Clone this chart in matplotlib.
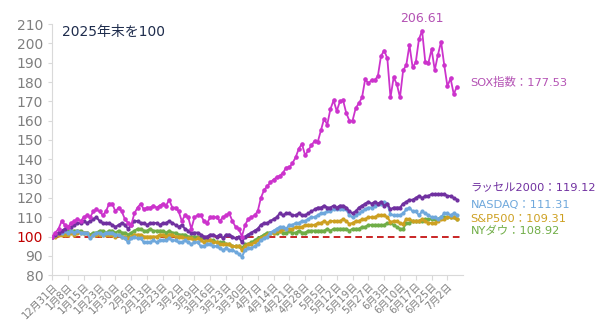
import matplotlib
matplotlib.use("Agg")
import matplotlib.pyplot as plt

plt.rcParams['font.family'] = ['DejaVu Sans', 'Noto Sans CJK JP']

# x tick labels, one every 5 trading days
tick_labels = ["12月31日", "1月8日", "1月15日", "1月23日", "1月30日", "2月6日", "2月13日",
               "2月23日", "3月2日", "3月9日", "3月16日", "3月23日", "3月30日", "4月7日",
               "4月14日", "4月21日", "4月28日", "5月5日", "5月12日", "5月19日", "5月27日",
               "6月3日", "6月10日", "6月17日", "6月25日", "7月2日"]

sox = [100, 102, 104, 108, 106, 105, 107, 108, 109, 108,
       110, 111, 110, 113, 114, 113, 111, 113, 117, 117,
       113, 115, 113, 109, 107, 106, 112, 115, 117, 114,
       115, 115, 116, 115, 116, 117, 116, 119, 115, 115,
       113, 108, 111, 110, 104, 110, 111, 111, 108, 107,
       110, 110, 110, 108, 110, 111, 112, 108, 105, 104,
       100, 106, 109, 110, 111, 113, 120, 124, 126, 128,
       129.5, 130.7, 131.5, 133, 135.7, 135.8, 138, 141, 145.5, 148,
       142, 144.7, 147.3, 149.5, 149, 155, 161, 158, 166, 170.5,
       165, 170, 170.6, 164, 160, 160, 166.5, 169, 172, 181.5,
       179.3, 181, 181, 183, 193.5, 196.3, 192.3, 172, 182.4, 179,
       172, 186, 188.8, 199.2, 187.6, 190.2, 202.2, 206.61, 190.5, 190,
       197, 186.2, 194, 200.9, 188.8, 177.9, 181.9, 173.8, 177.53]

russell = [100, 101, 102, 103, 104, 105, 105, 106, 107, 107,
           108, 107, 108, 109, 110, 108, 107, 107, 107, 106,
           105, 106, 107, 106, 104, 106, 108, 108, 107, 107,
           106, 107, 107, 107, 106, 107, 107, 108, 107, 106,
           105, 106, 104, 103, 102, 102, 102, 101, 100, 100,
           101, 101, 100, 101, 99, 101, 101, 100, 99, 100,
           97, 100, 101, 102, 103, 104, 106, 107, 107, 108,
           109, 110, 112, 111, 112, 112, 111, 111, 112, 111,
           111, 112, 113, 114, 115, 115, 116, 115, 115, 116,
           115, 116, 116, 115, 113, 112, 113, 115, 116, 117,
           118, 117, 118, 117, 118, 116, 117, 114, 115, 115,
           115, 117, 118, 119, 119, 120, 121, 120, 121, 121,
           122, 122, 122, 122, 122, 121, 121, 120, 119.12]

nasdaq = [100, 101, 102, 102, 103, 102, 103, 102, 103, 102,
          102, 102, 99, 101, 102, 102, 101, 102, 102, 102,
          101, 101, 100, 99, 97, 99, 100, 99, 99, 97,
          97, 97, 98, 97, 98, 98, 98, 99, 98, 98,
          97, 97, 98, 97, 96, 97, 97, 95, 95, 96,
          96, 95, 95, 94, 93, 94, 93, 93, 92, 91,
          89.5, 93, 94, 94, 95, 96, 98, 99, 100, 102,
          103, 104, 105, 105, 104, 106, 106, 107, 107, 108,
          108, 109, 110, 110, 111, 112, 112, 113, 113, 114,
          114, 114, 114, 114, 111, 110, 111, 112, 113, 114,
          115, 115, 116, 117, 117, 118, 117, 111.5, 111, 111,
          111, 112, 114, 115, 113, 113, 111, 113, 112, 111,
          110, 110, 109, 110, 112, 112, 111, 112, 111.31]

sp500 = [100, 100, 101, 101, 101, 101, 102, 101, 102, 102,
         102, 102, 100, 101, 101, 101, 101, 101, 101, 101,
         100, 101, 100, 100, 99, 100, 101, 101, 101, 100,
         100, 100, 100, 100, 101, 101, 100, 101, 101, 100,
         100, 100, 99, 99, 99, 98, 99, 98, 97, 98,
         98, 97, 97, 96, 96, 96, 96, 95, 95, 95,
         93, 95, 96, 96, 97, 98, 99, 100, 101, 102,
         102, 103, 103, 104, 104, 104, 104, 105, 105, 105,
         106, 106, 106, 106, 107, 107, 108, 107, 108, 108,
         108, 108, 109, 108, 106.5, 107, 108, 108, 109, 109,
         110, 110, 110, 111, 111, 111, 110, 107.5, 108, 108,
         107, 106.5, 109, 109, 108, 108, 108, 109, 108, 107,
         107, 107, 108, 109, 109, 110, 110, 110, 109.31]

dow = [100, 101, 102, 102, 102, 103, 103, 103, 103, 103,
       102, 102, 101, 102, 102, 103, 103, 102, 103, 103,
       102, 103, 102, 102, 101, 102, 103, 104, 104, 103,
       103, 104, 103, 103, 103, 103, 102, 103, 102, 102,
       101, 101, 101, 100, 100, 100, 100, 99, 99, 98,
       98, 98, 97, 97, 97, 96, 96, 95, 95, 95,
       94, 96, 96, 97, 98, 99, 100, 101, 102, 102,
       102, 102, 103, 102, 102, 103, 102, 102, 103, 102,
       102, 103, 103, 103, 103, 103, 103, 104, 103, 104,
       104, 104, 104, 104, 103, 104, 104, 104, 105, 105,
       106, 106, 106, 106, 106, 106, 107, 107, 106, 105,
       104, 104, 107, 107, 108, 108, 108, 108, 109, 109,
       109, 109, 109, 110, 110, 110, 110, 110, 108.92]

x = list(range(len(sox)))

fig = plt.figure(figsize=(6, 3.26), dpi=100)
ax = fig.add_axes([0.087, 0.156, 0.685, 0.77])

ax.axhline(100, color="#C00000", linestyle=(0, (4, 2.5)), linewidth=1.2, zorder=1)

ax.plot(x, dow, color="#70AD47", marker="o", markersize=2.0, linewidth=1.5, zorder=2)
ax.plot(x, sp500, color="#CDA021", marker="o", markersize=2.0, linewidth=1.5, zorder=3)
ax.plot(x, nasdaq, color="#6FA8DC", marker="o", markersize=2.0, linewidth=1.5, zorder=4)
ax.plot(x, russell, color="#7030A0", marker="o", markersize=2.0, linewidth=1.5, zorder=5)
ax.plot(x, sox, color="#CC33CC", marker="o", markersize=2.3, linewidth=1.3, zorder=6)

ax.set_xlim(0, 130)
ax.set_ylim(80, 210)
ax.set_yticks(range(80, 211, 10))
ax.set_xticks(range(0, 5 * len(tick_labels), 5))
ax.set_xticklabels(tick_labels, rotation=45, ha="right", rotation_mode="anchor",
                   fontsize=7.2, color="#7F7F7F")
ax.tick_params(axis="y", labelsize=10, colors="#7F7F7F", length=3, color="#D9D9D9")
ax.tick_params(axis="x", length=3.5, color="#D9D9D9", pad=1)
for lab in ax.get_yticklabels():
    if lab.get_text() == "100":
        lab.set_color("#C00000")

for side in ["top", "right"]:
    ax.spines[side].set_visible(False)
ax.spines["left"].set_color("#D9D9D9")
ax.spines["bottom"].set_color("#D9D9D9")

ax.text(0.025, 0.995, "2025年末を100", transform=ax.transAxes, fontsize=10,
        color="#1F2D4D", va="top", ha="left")

ax.annotate("206.61", xy=(117, 206.61), xytext=(0, 4), textcoords="offset points",
            ha="center", va="bottom", fontsize=9, color="#B452B4")

labels_right = [("SOX指数：177.53", 180.0, "#B452B4"),
                ("ラッセル2000：119.12", 125.6, "#7030A0"),
                ("NASDAQ：111.31", 116.2, "#6FA8DC"),
                ("S&P500：109.31", 108.9, "#CDA021"),
                ("NYダウ：108.92", 102.8, "#70AD47")]
for txt, yv, col in labels_right:
    ax.text(132.3, yv, txt, fontsize=8.2, color=col, va="center", ha="left", clip_on=False)

fig.savefig("out.png", dpi=100)
